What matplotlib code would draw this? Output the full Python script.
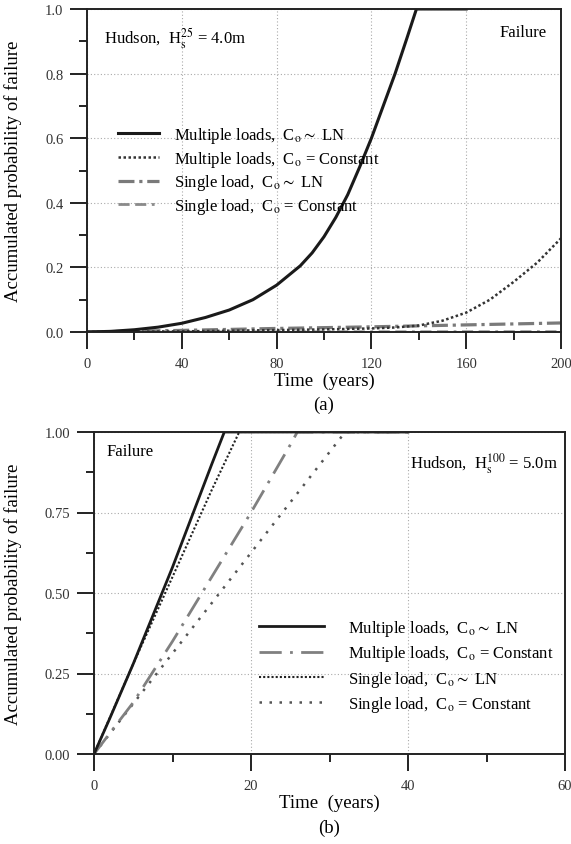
import matplotlib
matplotlib.use('Agg')
import matplotlib.pyplot as plt
import matplotlib.ticker as ticker

plt.rcParams['font.family'] = ['Liberation Serif', 'DejaVu Serif']
plt.rcParams['mathtext.fontset'] = 'stix'

# ---- data, panel (a) ----
t_a_mlln = [0, 10, 20, 30, 40, 50, 60, 70, 80, 90, 95, 100, 105, 110, 115, 120, 125, 130, 135, 139, 160]
p_a_mlln = [0, 0.002, 0.007, 0.015, 0.027, 0.045, 0.068, 0.10, 0.145, 0.205, 0.245, 0.295, 0.355, 0.425, 0.51, 0.60, 0.70, 0.80, 0.91, 1.0, 1.0]
t_a_mlc = [0, 20, 40, 60, 80, 100, 120, 130, 140, 150, 160, 170, 180, 190, 200]
p_a_mlc = [0, 0.001, 0.002, 0.004, 0.006, 0.008, 0.011, 0.014, 0.02, 0.035, 0.06, 0.10, 0.155, 0.215, 0.29]
t_a_slln = [0, 40, 80, 120, 160, 200]
p_a_slln = [0, 0.005, 0.011, 0.016, 0.022, 0.028]
t_a_slc = [0, 100, 200]
p_a_slc = [0, 0.0005, 0.001]

# ---- data, panel (b) ----
t_b_mlln = [0, 2, 5, 10, 15, 16.6, 40]
p_b_mlln = [0, 0.11, 0.28, 0.58, 0.90, 1.0, 1.0]
t_b_mlc = [0, 5, 10, 15, 20, 25, 25.9, 40]
p_b_mlc = [0, 0.16, 0.35, 0.55, 0.75, 0.96, 1.0, 1.0]
t_b_slln = [0, 5, 10, 15, 18.5, 40]
p_b_slln = [0, 0.28, 0.55, 0.82, 1.0, 1.0]
t_b_slc = [0, 8, 16, 24, 32, 40]
p_b_slc = [0, 0.25, 0.50, 0.75, 1.0, 1.0]

lab_mlln = r'Multiple loads,  C$_\mathrm{o}$$\sim$ LN'
lab_mlc = r'Multiple loads,  C$_\mathrm{o}$ = Constant'
lab_slln = r'Single load,  C$_\mathrm{o}$$\sim$ LN'
lab_slc = r'Single load,  C$_\mathrm{o}$ = Constant'


def style_axes(ax, xmaj, xmin, ymaj, ymin, yfmt):
    for s in ax.spines.values():
        s.set_linewidth(1.4)
        s.set_color('#222222')
    ax.xaxis.set_major_locator(ticker.MultipleLocator(xmaj))
    ax.xaxis.set_minor_locator(ticker.MultipleLocator(xmin))
    ax.yaxis.set_major_locator(ticker.MultipleLocator(ymaj))
    ax.yaxis.set_minor_locator(ticker.MultipleLocator(ymin))
    ax.yaxis.set_major_formatter(ticker.FormatStrFormatter(yfmt))
    ax.tick_params(which='major', direction='out', length=12, width=1.4,
                   labelsize=10.5, labelcolor='#333333', color='#222222')
    ax.tick_params(which='minor', direction='out', length=6, width=1.4,
                   color='#222222')
    ax.tick_params(axis='x', which='major', pad=6)
    ax.tick_params(axis='y', which='major', pad=5)
    ax.grid(which='major', color='#aaaaaa', linestyle=(0, (1, 2)), linewidth=0.8)
    ax.set_axisbelow(True)


fig = plt.figure(figsize=(5.71, 8.45), dpi=100)

# ---------------- (a) ----------------
ax1 = fig.add_axes([87/571, 1-333/845, 474/571, 323/845])
ax1.plot(t_a_slc, p_a_slc, color='#8a8a8a', lw=2, dashes=(4, 2, 4, 2, 1, 2), label=lab_slc)
ax1.plot(t_a_slln, p_a_slln, color='#7a7a7a', lw=2.3, dashes=(5, 1.5, 1, 1.5), label=lab_slln)
ax1.plot(t_a_mlc, p_a_mlc, color='#333333', lw=1.8, dashes=(1, 1), label=lab_mlc)
ax1.plot(t_a_mlln, p_a_mlln, color='#1a1a1a', lw=2.2, label=lab_mlln)
ax1.set_xlim(0, 200)
ax1.set_ylim(0, 1)
style_axes(ax1, 40, 20, 0.2, 0.1, '%.1f')
ax1.set_xlabel('Time  (years)', fontsize=13.5, labelpad=1)
ax1.set_ylabel('Accumulated probability of failure', fontsize=13.5)
ax1.yaxis.set_label_coords(-0.137, 0.5)
ax1.text(0.5, -0.223, '(a)', transform=ax1.transAxes, ha='center', va='center', fontsize=13.5)
ax1.text(0.035, 0.91, r'Hudson,  H$_\mathrm{s}^{25}$ = 4.0m', transform=ax1.transAxes,
         fontsize=12, va='center')
ax1.text(0.97, 0.93, 'Failure', transform=ax1.transAxes, fontsize=12, ha='right', va='center')
h, l = ax1.get_legend_handles_labels()
ax1.legend(h[::-1], l[::-1], loc='center left', bbox_to_anchor=(0.065, 0.50),
           frameon=False, fontsize=12, handlelength=2.5, handletextpad=0.9,
           labelspacing=0.22, borderpad=0, borderaxespad=0)

# ---------------- (b) ----------------
ax2 = fig.add_axes([94/571, 1-755/845, 471/571, 322/845])
ax2.plot(t_b_slc, p_b_slc, color='#555555', lw=1.8, dashes=(1, 3), label=lab_slc)
ax2.plot(t_b_slln, p_b_slln, color='#222222', lw=1.5, dashes=(1, 1), label=lab_slln)
ax2.plot(t_b_mlc, p_b_mlc, color='#808080', lw=2, dashes=(8, 3, 1, 3), label=lab_mlc)
ax2.plot(t_b_mlln, p_b_mlln, color='#1a1a1a', lw=2, label=lab_mlln)
ax2.set_xlim(0, 60)
ax2.set_ylim(0, 1)
style_axes(ax2, 20, 10, 0.25, 0.125, '%.2f')
ax2.set_xlabel('Time  (years)', fontsize=13.5, labelpad=1)
ax2.set_ylabel('Accumulated probability of failure', fontsize=13.5)
ax2.yaxis.set_label_coords(-0.153, 0.5)
ax2.text(0.5, -0.227, '(b)', transform=ax2.transAxes, ha='center', va='center', fontsize=13.5)
ax2.text(0.985, 0.905, r'Hudson,  H$_\mathrm{s}^{100}$ = 5.0m', transform=ax2.transAxes,
         fontsize=12, ha='right', va='center')
ax2.text(0.027, 0.94, 'Failure', transform=ax2.transAxes, fontsize=12, va='center')
h, l = ax2.get_legend_handles_labels()
order = [3, 2, 1, 0]
ax2.legend([h[i] for i in order], [l[i] for i in order], loc='center left',
           bbox_to_anchor=(0.35, 0.273), frameon=False, fontsize=12,
           handlelength=3.9, handletextpad=1.45, labelspacing=0.32,
           borderpad=0, borderaxespad=0)

fig.savefig('out.png', dpi=100)
